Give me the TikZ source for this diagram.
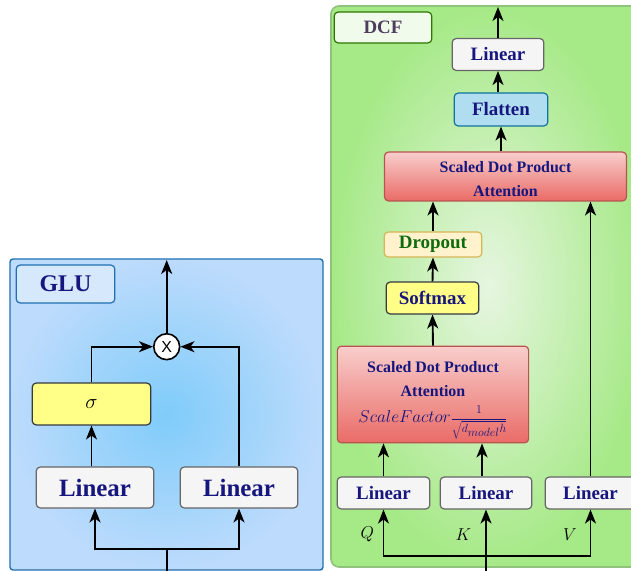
\documentclass[tikz,border=0pt]{standalone}
\usepackage[no-math]{fontspec}
\setmainfont{Liberation Serif}
\newfontfamily\mulfont{Liberation Sans}
\usetikzlibrary{arrows.meta}

\definecolor{glucenter}{HTML}{7FCCFA}
\definecolor{gluedge}{HTML}{BDDBFC}
\definecolor{glustroke}{HTML}{1F6FB2}
\definecolor{glutitlefill}{HTML}{D6E8FC}
\definecolor{dcfcenter}{HTML}{E6F6E0}
\definecolor{dcfedge}{HTML}{A6E987}
\definecolor{dcfstroke}{HTML}{8FC27A}
\definecolor{dcftitlefill}{HTML}{F0FBEB}
\definecolor{dcftitlestroke}{HTML}{2D7600}
\definecolor{dcftext}{HTML}{4F3D5E}
\definecolor{linfill}{HTML}{F5F5F5}
\definecolor{linstroke}{HTML}{666666}
\definecolor{sigfill}{HTML}{FFFF88}
\definecolor{sigstroke}{HTML}{36393D}
\definecolor{redtop}{HTML}{F8CECC}
\definecolor{redbot}{HTML}{EA6B66}
\definecolor{redstroke}{HTML}{B85450}
\definecolor{flatfill}{HTML}{B1DDF0}
\definecolor{flatstroke}{HTML}{10739E}
\definecolor{dropfill}{HTML}{FFF2CC}
\definecolor{dropstroke}{HTML}{D6B656}
\definecolor{droptext}{HTML}{0F6B0F}
\definecolor{txtblue}{HTML}{16167E}

\begin{document}
\begin{tikzpicture}[x=1bp,y=-1bp,
	arr/.style={line width=1.9,-{Stealth[length=14bp,width=11bp,inset=4bp]}},
	wire/.style={line width=1.9},
	box/.style={rectangle,rounded corners=4,line width=1.2,inner sep=0,align=center,text=txtblue},
	linbig/.style={box,fill=linfill,draw=linstroke,minimum width=118,minimum height=41,font=\fontsize{25}{30}\selectfont\bfseries},
	linsmall/.style={box,fill=linfill,draw=linstroke,minimum width=92,minimum height=32,font=\fontsize{19}{22}\selectfont\bfseries},
	redbox/.style={box,top color=redtop,bottom color=redbot,draw=redstroke,font=\fontsize{16}{24}\selectfont\bfseries}]
	\useasboundingbox (0,0) rectangle (631,571);
%%%%%%%%%%%%%%%%%%%%%%%%%%%%%%%%%%%%%%%%%%%%%%%%%%%%%%%%%%%%
% GLU
	\draw[rounded corners=3,draw=glustroke,line width=1.4,inner color=glucenter,outer color=gluedge] (10,259) rectangle (323,570);
	\node[box,fill=glutitlefill,draw=glustroke,minimum width=99,minimum height=38,font=\fontsize{24}{28}\selectfont\bfseries] (glu) at (65.5,284) {GLU};
	\node[linbig] (linL) at (95,487.5) {Linear};
	\node[linbig] (linR) at (239,487.5) {Linear};
	\node[box,fill=sigfill,draw=sigstroke,minimum width=119,minimum height=42,text=black,font=\fontsize{20}{24}\selectfont] (sig) at (91.5,404) {$\sigma$};
	\node[circle,draw,fill=white,line width=1.6,minimum size=26,inner sep=0,font=\mulfont\fontsize{16}{16}\selectfont] (mul) at (166.7,346.7) {X};
	\coordinate (gout) at (166.7,260);
	\coordinate (gin) at (166.7,571);
	\coordinate (gsplit) at (166.7,549);
	\draw[arr] (mul.north) -- (gout);
	\draw[arr] (sig.north) |- (mul.west);
	\draw[arr] (linR.north) |- (mul.east);
	\draw[arr] (linL.north -| sig.south) -- (sig.south);
	\draw[wire] (gin) -- (gsplit);
	\draw[arr] (gsplit) -| (linL.south);
	\draw[arr] (gsplit) -| (linR.south);
%%%%%%%%%%%%%%%%%%%%%%%%%%%%%%%%%%%%%%%%%%%%%%%%%%%%%%%%%%%%
% DCF
	\draw[rounded corners=8,draw=dcfstroke,line width=1.6,inner color=dcfcenter,outer color=dcfedge] (331,6) rectangle (645,567);
	\node[box,fill=dcftitlefill,draw=dcftitlestroke,minimum width=98,minimum height=31,text=dcftext,font=\fontsize{19}{22}\selectfont\bfseries] (dcf) at (383,27.5) {DCF};
	\node[linsmall] (linO) at (498,54.5) {Linear};
	\node[box,fill=flatfill,draw=flatstroke,minimum width=94,minimum height=33,font=\fontsize{19}{22}\selectfont\bfseries] (flat) at (501,109.5) {Flatten};
	\node[redbox,minimum width=243,minimum height=49] (sdpaT) at (505.5,176.5) {};
	\node[align=center,text=txtblue,font=\fontsize{16}{24}\selectfont\bfseries] (sdpaTtxt) at (505.5,179) {Scaled Dot Product\\Attention};
	\node[box,fill=dropfill,draw=dropstroke,minimum width=98,minimum height=25,text=droptext,font=\fontsize{19}{22}\selectfont\bfseries] (drop) at (433,244.5) {Dropout};
	\node[box,fill=sigfill,draw=sigstroke,minimum width=93,minimum height=32,font=\fontsize{19}{22}\selectfont\bfseries] (soft) at (432.5,298) {Softmax};
	\node[redbox,minimum width=192,minimum height=97] (sdpaB) at (433,394.5) {};
	\node[align=center,text=txtblue,font=\fontsize{16}{24}\selectfont\bfseries] (sdpaBtxt) at (433,400) {Scaled Dot Product\\Attention\\[2pt]\mdseries{\fontsize{17}{20}\selectfont$ScaleFactor$}{\fontsize{13}{16}\selectfont$\displaystyle\frac{1}{\sqrt{d_{\textstyle model}h}}$}};
	\node[linsmall,minimum width=93] (linQ) at (383.5,493) {Linear};
	\node[linsmall] (linK) at (486,493) {Linear};
	\node[linsmall,minimum width=91] (linV) at (590.5,493) {Linear};
	\node[font=\fontsize{17}{20}\selectfont] (q) at (367.3,534.3) {$Q$};
	\node[font=\fontsize{17}{20}\selectfont] (k) at (463.3,534.3) {$K$};
	\node[font=\fontsize{17}{20}\selectfont] (v) at (570,534.3) {$V$};
	\coordinate (dout) at (498,7);
	\coordinate (din) at (486,571);
	\coordinate (dbus) at (486,556);
	\draw[arr] (linO.north) -- (dout);
	\draw[arr] (flat.north -| linO.south) -- (linO.south);
	\draw[arr] (flat.south |- sdpaT.north) -- (flat.south);
	\draw[arr] (drop.north) -- (drop.north |- sdpaT.south);
	\draw[arr] (soft.north) -- (drop.south);
	\draw[arr] (sdpaB.north) -- (soft.south);
	\draw[arr] (linQ.north) -- (linQ.north |- sdpaB.south);
	\draw[arr] ([xshift=-4]linK.north) -- ([xshift=-4]linK.north |- sdpaB.south);
	\draw[arr] (linV.north) -- (linV.north |- sdpaT.south);
	\draw[arr] (dbus) -| (linQ.south);
	\draw[arr] (dbus) -| (linV.south);
	\draw[arr] (din) -- (linK.south);
\end{tikzpicture}
\end{document}
